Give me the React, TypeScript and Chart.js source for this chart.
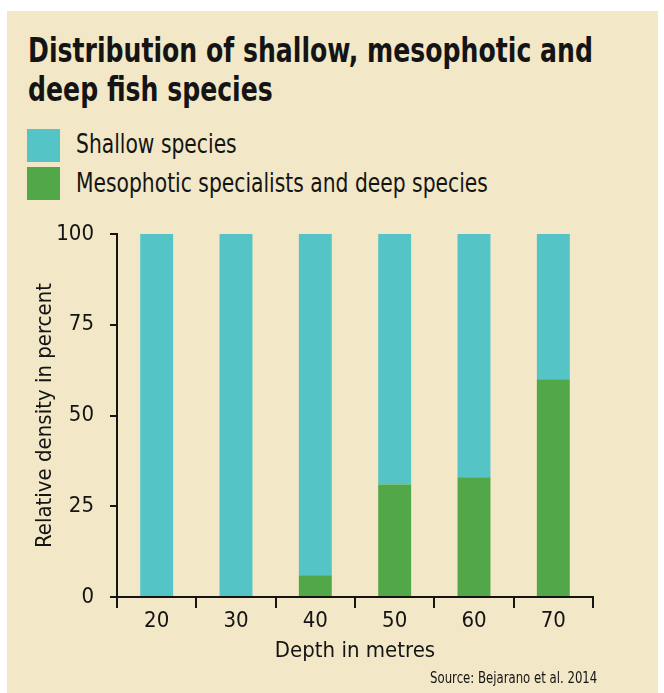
import React, { useEffect, useLayoutEffect, useRef, useState } from "react";
import { Chart, registerables } from "chart.js";

Chart.register(...registerables);

// ---- data ----
const depths = ["20", "30", "40", "50", "60", "70"];
const shallowSpecies = [100, 100, 94, 69, 67, 40];
const deepSpecies = [0, 0, 6, 31, 33, 60];
const yTickValues = [0, 25, 50, 75, 100];
const seriesLabels = ["Shallow species", "Mesophotic specialists and deep species"];
const seriesColors = ["#55c4c6", "#52a848"];
const titleLines = ["Distribution of shallow, mesophotic and", "deep fish species"];
const xTitle = "Depth in metres";
const yTitle = "Relative density in percent";
const sourceText = "Source: Bejarano et al. 2014";

// ---- style ----
const FAMILY = "'Liberation Sans Narrow', 'DejaVu Sans Condensed', sans-serif";
const INK = "#141414";
const PANEL = "#f2e7c6";

export default function App() {
  const canvasRef = useRef<HTMLCanvasElement>(null);
  const titleRef = useRef<HTMLSpanElement>(null);
  const legendRef = useRef<HTMLSpanElement>(null);
  const sourceRef = useRef<HTMLSpanElement>(null);
  const [fit, setFit] = useState({ title: 1, legend: 1, source: 1 });

  useLayoutEffect(() => {
    const w = (r: React.RefObject<HTMLSpanElement>) => (r.current ? r.current.offsetWidth : 0) || 1;
    setFit({
      title: 565 / w(titleRef),
      legend: 412 / w(legendRef),
      source: 167 / w(sourceRef),
    });
  }, []);

  useEffect(() => {
    const canvas = canvasRef.current;
    if (!canvas) return;
    const tickFont = { family: FAMILY, size: 22 };
    const chart = new Chart(canvas, {
      type: "bar",
      data: {
        labels: depths,
        datasets: [
          { label: seriesLabels[1], data: deepSpecies, backgroundColor: seriesColors[1], borderWidth: 0 },
          { label: seriesLabels[0], data: shallowSpecies, backgroundColor: seriesColors[0], borderWidth: 0 },
        ],
      },
      options: {
        animation: false,
        responsive: false,
        layout: { padding: { top: 19, right: 65, left: 0, bottom: 0 } },
        datasets: { bar: { barPercentage: 0.415, categoryPercentage: 1 } },
        plugins: {
          legend: { display: false },
          tooltip: { enabled: false },
          title: { display: false },
        },
        scales: {
          x: {
            stacked: true,
            offset: true,
            grid: {
              display: true,
              drawOnChartArea: false,
              drawTicks: true,
              offset: true,
              tickLength: 11,
              tickWidth: 2,
              tickColor: INK,
              lineWidth: 2,
              color: INK,
            },
            border: { display: true, color: INK, width: 2 },
            ticks: { color: INK, font: tickFont, padding: 0, maxRotation: 0 },
            title: {
              display: true,
              text: xTitle,
              color: INK,
              font: { family: FAMILY, size: 22 },
              padding: { top: 0, bottom: 29 },
            },
            afterFit: (s: any) => {
              s.height = 96;
              s.paddingLeft = 0;
              s.paddingRight = 0;
            },
          },
          y: {
            stacked: true,
            min: 0,
            max: 100,
            grid: {
              display: true,
              drawOnChartArea: false,
              drawTicks: true,
              tickLength: 7,
              tickWidth: 2,
              tickColor: INK,
              lineWidth: 2,
              color: INK,
            },
            border: { display: true, color: INK, width: 2 },
            ticks: { color: INK, font: tickFont, padding: 16, stepSize: 25 },
            afterBuildTicks: (s: any) => {
              s.ticks = yTickValues.map((v) => ({ value: v }));
            },
            title: {
              display: true,
              text: yTitle,
              color: INK,
              font: { family: FAMILY, size: 22 },
              padding: { top: 25, bottom: 0 },
            },
            afterFit: (s: any) => {
              s.width = 110;
              s.paddingTop = 0;
              s.paddingBottom = 0;
            },
          },
        },
      },
    } as any);
    return () => chart.destroy();
  }, []);

  const abs: React.CSSProperties = { position: "absolute", whiteSpace: "nowrap", color: INK, fontFamily: FAMILY };

  return (
    <div style={{ position: "absolute", left: 0, top: 0, width: 664, height: 693 }}>
      <div style={{ position: "absolute", left: 7, top: 11, width: 651, height: 682, background: PANEL }} />

      {/* title */}
      <div
        style={{
          ...abs,
          left: 28,
          top: 31,
          fontSize: 33,
          lineHeight: "39px",
          fontWeight: 700,
          transform: `scaleX(${fit.title})`,
          transformOrigin: "left top",
        }}
      >
        <span ref={titleRef} style={{ display: "inline-block" }}>{titleLines[0]}</span>
        <br />
        <span style={{ display: "inline-block" }}>{titleLines[1]}</span>
      </div>

      {/* legend */}
      {seriesLabels.map((lab, i) => (
        <React.Fragment key={lab}>
          <div
            style={{
              position: "absolute",
              left: 27,
              top: i === 0 ? 129 : 167,
              width: 33,
              height: 33,
              background: seriesColors[i],
            }}
          />
          <div
            style={{
              ...abs,
              left: 76,
              top: i === 0 ? 131 : 170,
              fontSize: 26,
              lineHeight: "26px",
              transform: `scaleX(${fit.legend})`,
              transformOrigin: "left top",
            }}
          >
            <span ref={i === 1 ? legendRef : undefined} style={{ display: "inline-block" }}>{lab}</span>
          </div>
        </React.Fragment>
      ))}

      {/* chart */}
      <div style={{ position: "absolute", left: 7, top: 215, width: 651, height: 478 }}>
        <canvas ref={canvasRef} width={651} height={478} style={{ display: "block", width: 651, height: 478 }} />
      </div>

      {/* source */}
      <div
        style={{
          ...abs,
          right: 67,
          top: 670,
          fontSize: 16,
          lineHeight: "16px",
          transform: `scaleX(${fit.source})`,
          transformOrigin: "right top",
        }}
      >
        <span ref={sourceRef} style={{ display: "inline-block" }}>{sourceText}</span>
      </div>
    </div>
  );
}
